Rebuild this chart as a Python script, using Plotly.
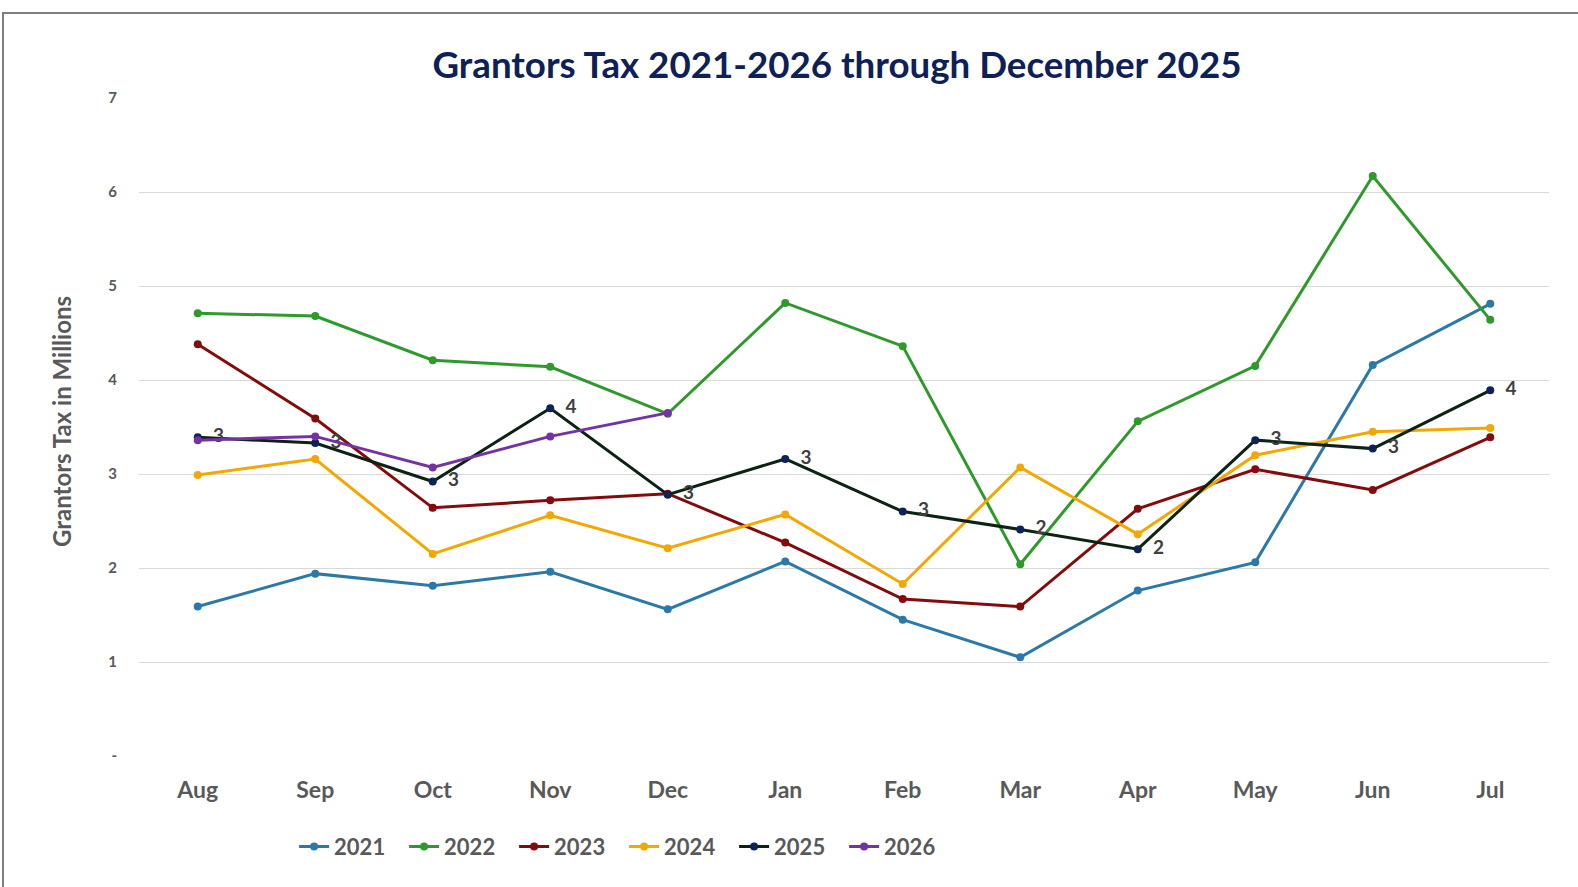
import plotly.graph_objects as go

months = ["Aug", "Sep", "Oct", "Nov", "Dec", "Jan", "Feb", "Mar", "Apr", "May", "Jun", "Jul"]

y2021 = [1.59, 1.94, 1.81, 1.96, 1.56, 2.07, 1.45, 1.05, 1.76, 2.06, 4.16, 4.81]
y2022 = [4.71, 4.68, 4.21, 4.14, 3.64, 4.82, 4.36, 2.04, 3.56, 4.15, 6.17, 4.64]
y2023 = [4.38, 3.59, 2.64, 2.72, 2.79, 2.27, 1.67, 1.59, 2.63, 3.05, 2.83, 3.39]
y2024 = [2.99, 3.16, 2.15, 2.56, 2.21, 2.57, 1.83, 3.07, 2.36, 3.20, 3.45, 3.49]
y2025 = [3.39, 3.33, 2.92, 3.70, 2.78, 3.16, 2.60, 2.41, 2.20, 3.36, 3.27, 3.89]
y2026 = [3.36, 3.40, 3.07, 3.40, 3.65]

y_ticks = [0, 1, 2, 3, 4, 5, 6, 7]
y_tick_labels = ["-", "1", "2", "3", "4", "5", "6", "7"]

FONT = "Lato"
GRAY = "#595959"

series = [
    ("2021", y2021, "#2a79a8", "#2a79a8"),
    ("2022", y2022, "#2e9a2b", "#2e9a2b"),
    ("2023", y2023, "#840b0b", "#840b0b"),
    ("2024", y2024, "#f2a800", "#f2a800"),
    ("2025", y2025, "#0c2212", "#0d2257"),
    ("2026", y2026, "#7433a3", "#7433a3"),
]

fig = go.Figure()
for name, vals, lc, mc in series:
    if name == "2025":
        kw = dict(
            mode="lines+markers+text",
            text=["  %d" % round(v) for v in vals],
            textposition="middle right",
            textfont=dict(family=FONT, size=19, color="#404040", weight="bold"),
        )
    else:
        kw = dict(mode="lines+markers")
    fig.add_trace(go.Scatter(
        x=months[:len(vals)], y=vals, name="<b>%s</b>" % name,
        line=dict(color=lc, width=3),
        marker=dict(color=mc, size=8),
        cliponaxis=False,
        **kw,
    ))

fig.update_layout(
    width=1578, height=887,
    margin=dict(l=139, r=29, t=98, b=131),
    paper_bgcolor="white", plot_bgcolor="white",
    font=dict(family=FONT, color=GRAY),
    title=dict(
        text="<b>Grantors Tax 2021-2026 through December 2025</b>",
        x=0.5304, xanchor="center", y=1 - 65 / 887, yanchor="middle",
        font=dict(family=FONT, size=36.7, color="#0e2058", weight="bold"),
    ),
    showlegend=True,
    legend=dict(
        orientation="h", x=0.110, xanchor="left", y=-0.138, yanchor="middle",
        font=dict(family=FONT, size=22, color=GRAY, weight="bold"),
        entrywidth=65, entrywidthmode="pixels",
        itemwidth=30, tracegroupgap=0,
    ),
    xaxis=dict(
        type="category", categoryorder="array", categoryarray=months,
        range=[-0.5, 11.5], showgrid=False, zeroline=False, showline=False,
        ticks="outside", ticklen=13, tickcolor="rgba(0,0,0,0)",
        tickfont=dict(family=FONT, size=23, color=GRAY, weight="bold"),
    ),
    yaxis=dict(
        range=[0, 7], tickvals=y_ticks, ticktext=y_tick_labels,
        showgrid=True, gridcolor="#d9d9d9", gridwidth=1,
        zeroline=False, showline=False,
        ticks="outside", ticklen=18, tickcolor="rgba(0,0,0,0)",
        tickfont=dict(family=FONT, size=15, color=GRAY, weight="bold"),
    ),
    annotations=[dict(
        text="<b>Grantors Tax in Millions</b>", textangle=-90,
        xref="paper", yref="paper",
        x=(61 - 139) / 1410, y=(756 - 422) / 658,
        xanchor="center", yanchor="middle", showarrow=False,
        font=dict(family=FONT, size=24, color=GRAY, weight="bold"),
    )],
    shapes=[dict(
        type="rect", xref="paper", yref="paper",
        x0=(3 - 139) / 1410, x1=(1600 - 139) / 1410,
        y0=(756 - 920) / 658, y1=(756 - 13) / 658,
        line=dict(color="#7f7f7f", width=2), fillcolor="rgba(0,0,0,0)",
        layer="below",
    )],
)

fig.write_html("out.html")
